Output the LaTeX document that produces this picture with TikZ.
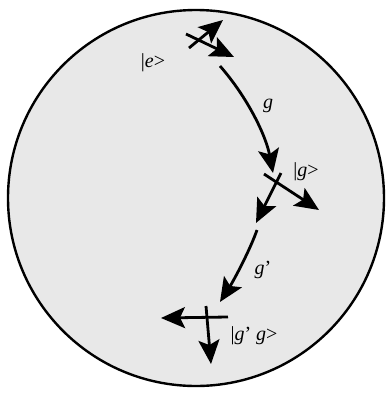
\documentclass[tikz,border=0pt]{standalone}
\usepackage{fontspec}
\setmainfont{Liberation Serif}
\usepackage{tikz}
\usetikzlibrary{arrows.meta}

\begin{document}
\begin{tikzpicture}[x=1pt,y=-1pt,
    vec/.style={-{Stealth[length=24pt,width=21pt,inset=5pt]},line width=2.8pt},
    lbl/.style={font=\fontsize{20}{22}\selectfont}]
            \useasboundingbox (0,0) rectangle (389,394);
            \filldraw[fill=gray!18,line width=2.4pt] (196,198) circle (188);
            % the three frames
            \foreach \n/\ax/\ay/\bx/\by/\cx/\cy/\dx/\dy in {
                e/189/48/223/20/186/34/234/57,
                g/264/174/319/210/281/173/256/223,
                h/228/317/161/318/206/306/211/364
            } {
                \coordinate (\n1s) at (\ax,\ay);
                \coordinate (\n1e) at (\bx,\by);
                \coordinate (\n2s) at (\cx,\cy);
                \coordinate (\n2e) at (\dx,\dy);
                \draw[vec] (\n1s) -- (\n1e);
                \draw[vec] (\n2s) -- (\n2e);
            }
            \node[lbl] (ke) at (153,63) {|\textit{e}>};
            \node[lbl] (kg) at (306,172) {|\textit{g}>};
            \node[lbl] (kgg) at (254,336) {|\textit{g}’ \textit{g}>};
            % the two moves
            \coordinate (m1s) at (220,66);
            \coordinate (m1e) at (273,173);
            \coordinate (m2s) at (257,230);
            \coordinate (m2e) at (220,302);
            \draw[vec] (m1s) .. controls (248,98) and (266,136) .. (m1e);
            \draw[vec] (m2s) .. controls (250,250) and (234,280) .. (m2e);
            \node[lbl] (mg) at (268,106) {\textit{g}};
            \node[lbl] (mgp) at (263,270) {\textit{g}’};
        \end{tikzpicture}
\end{document}
